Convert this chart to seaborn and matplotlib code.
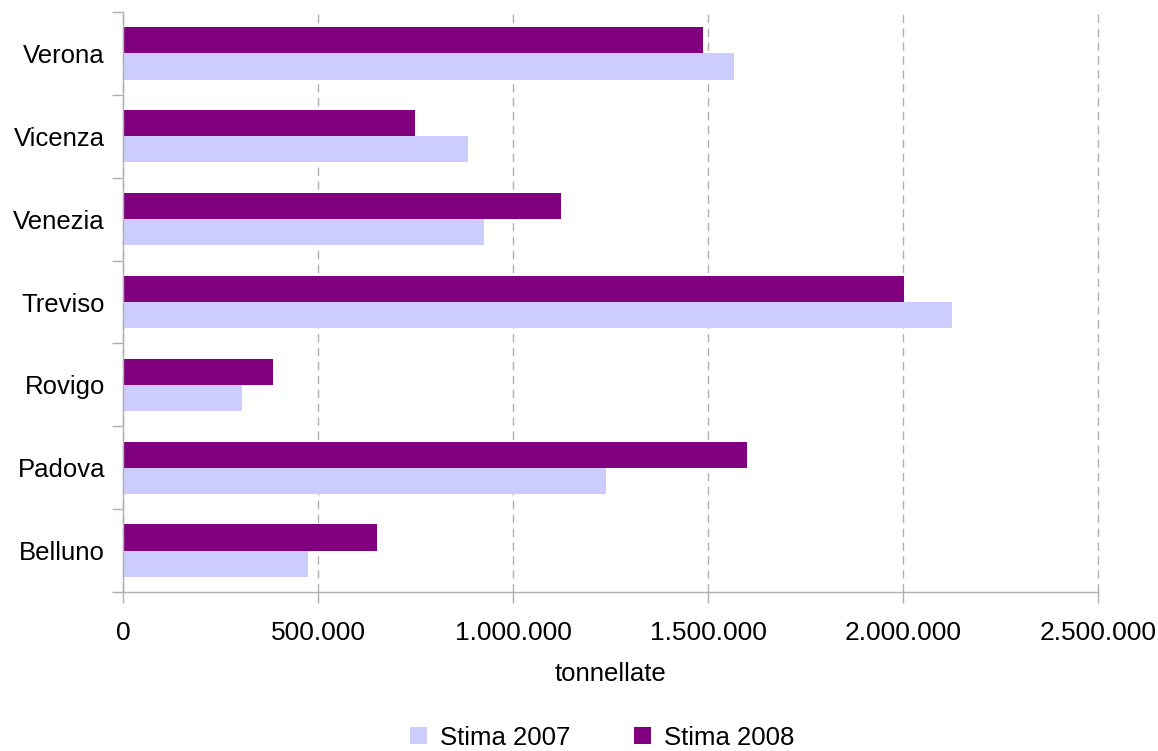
import pandas as pd
import matplotlib.pyplot as plt
import matplotlib.ticker as mticker
from matplotlib.patches import Patch
import seaborn as sns

# province and estimated tonnes per year
province = ['Verona', 'Vicenza', 'Venezia', 'Treviso', 'Rovigo', 'Padova', 'Belluno']
stima_2007 = [1567000, 885000, 925000, 2125000, 305000, 1238000, 474000]
stima_2008 = [1487000, 749000, 1123000, 2002000, 385000, 1600000, 651000]
series = ['Stima 2007', 'Stima 2008']
colori = {'Stima 2007': '#CCCCFF', 'Stima 2008': '#800080'}

df = pd.DataFrame({
    'provincia': province * 2,
    'serie': ['Stima 2008'] * len(province) + ['Stima 2007'] * len(province),
    'tonnellate': stima_2008 + stima_2007,
})

sns.set_style('white')
plt.rcParams['font.family'] = ['Liberation Sans', 'DejaVu Sans']
plt.rcParams['text.color'] = 'black'
plt.rcParams['xtick.color'] = 'black'
plt.rcParams['ytick.color'] = 'black'
plt.rcParams['axes.labelcolor'] = 'black'

fig = plt.figure(figsize=(11.58, 7.51), dpi=100)
ax = fig.add_axes([0.1062, 0.2117, 0.842, 0.7723])

sns.barplot(data=df, y='provincia', x='tonnellate', hue='serie',
            order=province, hue_order=['Stima 2008', 'Stima 2007'],
            palette=colori, orient='h', width=0.63, saturation=1,
            linewidth=0, ax=ax, legend=False)

ax.set_xlim(0, 2500000)
ax.set_ylim(len(province) - 0.5, -0.5)
ax.xaxis.set_major_locator(mticker.MultipleLocator(500000))
ax.xaxis.set_major_formatter(mticker.FuncFormatter(lambda v, p: f'{int(v):,}'.replace(',', '.')))
ax.grid(axis='x', color='#B0B0B0', linestyle=(0, (6, 4)), linewidth=1)
for g in ax.get_xgridlines():
    g.set_clip_on(False)
ax.set_axisbelow(True)

# y ticks on category boundaries, labels centered in each band
ax.set_yticks([i - 0.5 for i in range(len(province) + 1)], minor=False)
ax.set_yticklabels([])
ax.set_yticks(range(len(province)), minor=True)
ax.set_yticklabels(province, minor=True, fontsize=18.5)
ax.tick_params(axis='y', which='minor', left=False, length=0, pad=13)
ax.tick_params(axis='y', which='major', left=True, length=8, color='#B0B0B0', width=1, direction='out')
ax.tick_params(axis='x', bottom=True, length=8, color='#B0B0B0', width=1, direction='out',
               labelsize=19, pad=13)

for s in ['top', 'right']:
    ax.spines[s].set_visible(False)
for s in ['left', 'bottom']:
    ax.spines[s].set_color('#B0B0B0')
    ax.spines[s].set_linewidth(1)

ax.set_ylabel('')
ax.set_xlabel('tonnellate', fontsize=18.5, labelpad=12)

handles = [Patch(facecolor=colori[s], edgecolor='none') for s in series]
fig.legend(handles, series, loc='lower center', bbox_to_anchor=(0.52, -0.029), ncol=2,
           frameon=False, fontsize=18.5, handlelength=0.65, handleheight=0.65,
           columnspacing=2.5, handletextpad=0.5)

fig.savefig('out.png', dpi=100)
